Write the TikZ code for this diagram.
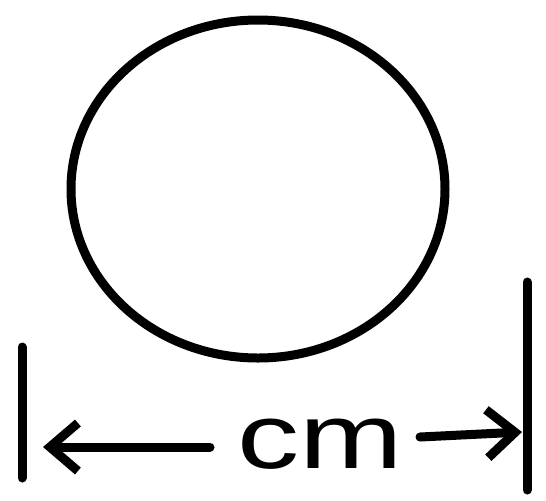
\documentclass[tikz,border=0pt]{standalone}
\usepackage{fontspec}
\setmainfont{Liberation Sans}
\usetikzlibrary{shapes.geometric,arrows.meta}
\begin{document}
\begin{tikzpicture}[x=0.5pt,y=-0.5pt,line width=4.5pt,line cap=round,line join=round,
  pen/.style={draw=black,line width=4.5pt},
  barb/.style={-{Straight Barb[length=14pt,width=24pt,line width=4.5pt]}}]
\useasboundingbox (0,0) rectangle (546,500);
\node[pen,ellipse,minimum width=187pt,minimum height=169pt,inner sep=0pt] (circ) at (258,189) {};
\coordinate (la) at (22,347);
\coordinate (lb) at (22,478);
\coordinate (ra) at (527,282);
\coordinate (rb) at (527,490);
\draw[pen] (la) -- (lb);
\draw[pen] (ra) -- (rb);
\node[inner sep=0pt,xscale=1.35,transform shape,font=\fontsize{46}{46}\selectfont] (lbl) at (320,444) {cm};
\coordinate (ls) at (210,447);
\coordinate (le) at (43,447);
\coordinate (rs) at (420,437);
\coordinate (re) at (522,432);
\draw[pen,barb] (ls) -- (le);
\draw[pen,barb] (rs) -- (re);
\end{tikzpicture}
\end{document}
